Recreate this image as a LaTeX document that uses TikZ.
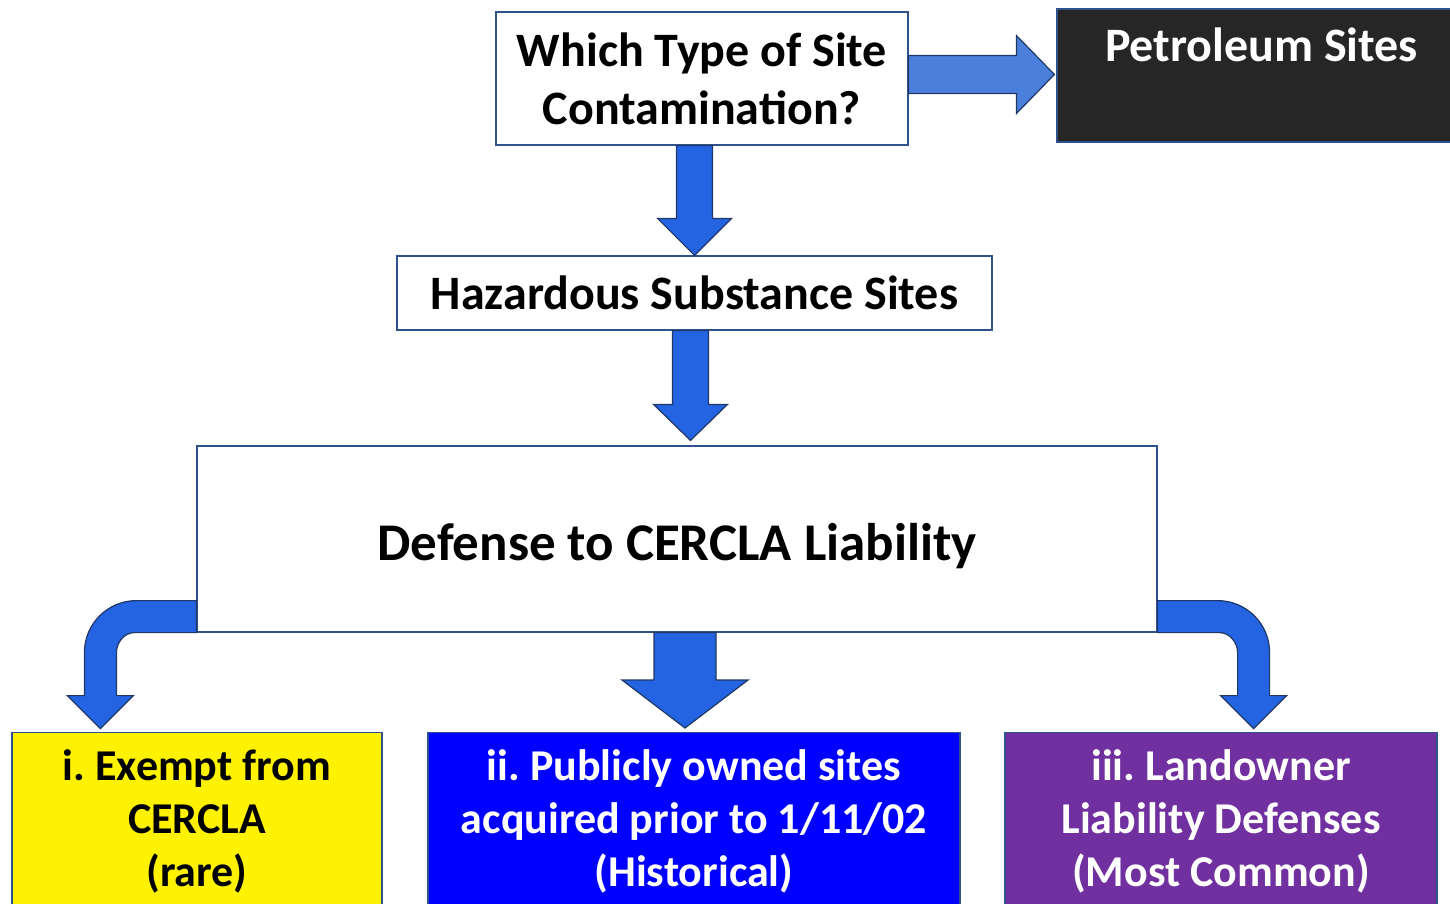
\documentclass[tikz,border=0pt]{standalone}
\usepackage{fontspec}
\setmainfont{Carlito}
\usetikzlibrary{calc}
\usetikzlibrary{positioning}

\definecolor{boxline}{RGB}{47,82,143}
\definecolor{arrowline}{RGB}{31,56,100}
\definecolor{arrowfill}{RGB}{36,99,226}
\definecolor{lightarrow}{RGB}{74,128,220}
\definecolor{petfill}{RGB}{38,38,38}
\definecolor{pubfill}{RGB}{0,0,255}
\definecolor{landfill}{RGB}{112,48,160}

% down block arrow: from, tip, half shaft, half head, head length
\newcommand{\blockdown}[5]{%
  \path (#1 -| #2) coordinate (ba) (#2) coordinate (bt);
  \draw [blockarrow] ($(ba)+(-#3,0)$) -- ($(bt)+(-#3,-#5)$) -- ($(bt)+(-#4,-#5)$) -- (bt)
    -- ($(bt)+(#4,-#5)$) -- ($(bt)+(#3,-#5)$) -- ($(ba)+(#3,0)$) -- cycle;
}

\tikzset{
  sitebox/.style={draw=boxline,line width=1.2pt,rectangle,fill=white,inner sep=0pt,
    align=center,font=\bfseries\fontsize{48}{58}\selectfont},
  casebox/.style={draw=boxline,line width=1.2pt,rectangle,anchor=north,inner xsep=0pt,
    inner ysep=14pt,align=flush center,font=\bfseries\fontsize{44}{53}\selectfont\frenchspacing,
    execute at begin node={\rule{0pt}{34pt}}},
  blockarrow/.style={draw=arrowline,fill=arrowfill,line width=1.2pt,line join=miter},
}

\begin{document}
\begin{tikzpicture}[x=1pt,y=-1pt]
  \useasboundingbox (0,0) rectangle (1450,903);

  \node [sitebox,minimum width=412pt,minimum height=133pt] (q) at (702,78.5)
    {Which Type of Site\\Contamination?};
  \node [sitebox,fill=petfill,minimum width=409pt,minimum height=133pt,
    label={[name=petlab,anchor=north,text=white,inner sep=0pt,yshift=-20pt,text height=33pt,
      font=\bfseries\fontsize{48}{58}\selectfont]north:Petroleum Sites}] (pet) at (1261.5,75.5) {};
  \node [sitebox,minimum width=595pt,minimum height=74pt] (hz) at (694.5,293)
    {Hazardous Substance Sites};
  \node [sitebox,minimum width=960pt,minimum height=186pt,text height=42pt,text depth=0pt,
    font=\bfseries\fontsize{53}{60}\selectfont] (df) at (677,539) {Defense to CERCLA Liability};

  \node [casebox,fill=yellow,text=black,text width=370pt] (ex) at (197,732)
    {i. Exempt from\\CERCLA\\(rare)};
  \node [casebox,fill=pubfill,text=white,text width=532pt] (pub) at (694,732)
    {ii. Publicly owned sites\\acquired prior to 1/11/02\\(Historical)};
  \node [casebox,fill=landfill,text=white,text width=432pt] (land) at (1221,732)
    {iii. Landowner\\Liability Defenses\\(Most Common)};

  % tips
  \path (hz.north) coordinate (t1);
  \path (hz.south |- df.north) ++(-4,-5) coordinate (t2);
  \path (df.south |- pub.north) ++(8,-4) coordinate (t3);
  \path (pet.west) ++(-2,-1) coordinate (t0);

  \draw [blockarrow,fill=lightarrow] ($(q.east |- t0)+(0,-19)$) -- ($(t0)+(-38,-19)$)
    -- ($(t0)+(-38,-39)$) -- (t0) -- ($(t0)+(-38,39)$) -- ($(t0)+(-38,19)$)
    -- ($(q.east |- t0)+(0,19)$) -- cycle;

  \blockdown{q.south}{t1}{18}{37}{37}
  \blockdown{hz.south}{t2}{18}{37}{36}
  \blockdown{df.south}{t3}{31}{63}{48}

  % bent arrows
  \coordinate (lc) at (df.south west);
  \draw [blockarrow] (lc) -- ($(lc)+(0,-32)$) -- ($(lc)+(-60,-32)$)
    .. controls ($(lc)+(-88.7,-32)$) and ($(lc)+(-112,-8.7)$) .. ($(lc)+(-112,20)$)
    -- ($(lc)+(-112,63)$) -- ($(lc)+(-129,63)$) -- ($(lc)+(-96,96)$) -- ($(lc)+(-63,63)$)
    -- ($(lc)+(-80,63)$) -- ($(lc)+(-80,20)$)
    .. controls ($(lc)+(-80,10)$) and ($(lc)+(-72,0)$) .. ($(lc)+(-62,0)$) -- cycle;

  \coordinate (rc) at (df.south east);
  \draw [blockarrow] (rc) -- ($(rc)+(0,-32)$) -- ($(rc)+(60,-32)$)
    .. controls ($(rc)+(88.7,-32)$) and ($(rc)+(112,-8.7)$) .. ($(rc)+(112,20)$)
    -- ($(rc)+(112,63)$) -- ($(rc)+(129,63)$) -- ($(rc)+(96,96)$) -- ($(rc)+(63,63)$)
    -- ($(rc)+(80,63)$) -- ($(rc)+(80,20)$)
    .. controls ($(rc)+(80,10)$) and ($(rc)+(72,0)$) .. ($(rc)+(62,0)$) -- cycle;

\end{tikzpicture}
\end{document}
